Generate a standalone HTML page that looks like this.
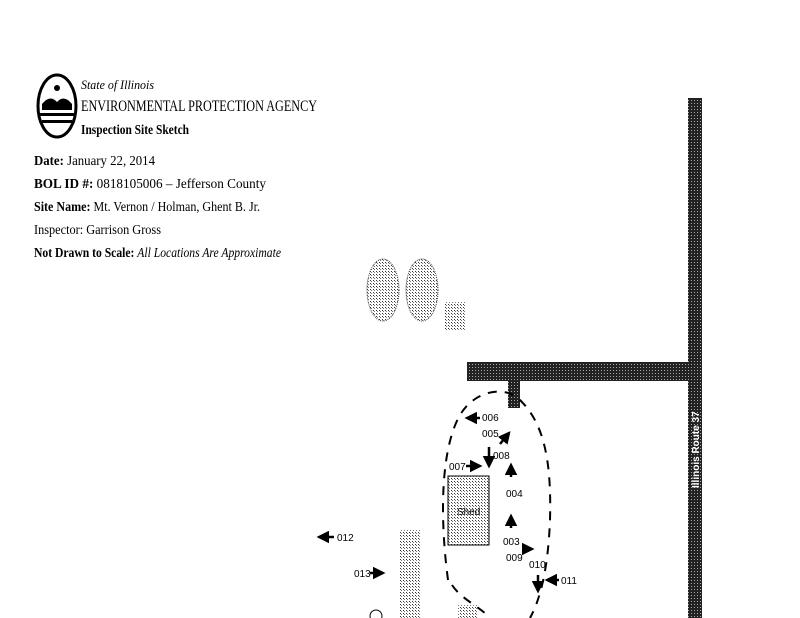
<!DOCTYPE html>
<html><head><style>
body{margin:0;background:#fff;}
svg{display:block}
text{font-family:"Liberation Serif",serif;fill:#000}
.s{font-family:"Liberation Sans",sans-serif;font-size:10px}
</style></head><body>
<svg width="800" height="618" viewBox="0 0 800 618" xmlns="http://www.w3.org/2000/svg">
<defs>
<pattern id="st" width="3" height="3" patternUnits="userSpaceOnUse">
<rect width="3" height="3" fill="#fff"/><rect x="1" y="1" width="1" height="1" fill="#333"/><rect x="2" y="2" width="1" height="1" fill="#777"/></pattern>
<pattern id="dk" width="3" height="3" patternUnits="userSpaceOnUse">
<rect width="3" height="3" fill="#222"/><rect x="1" y="1" width="1" height="1" fill="#aaa"/></pattern>
<marker id="ar" markerWidth="5" markerHeight="5" refX="4" refY="2.5" orient="auto"><path d="M0,0L5,2.5L0,5z" fill="#000"/></marker>
</defs>
<!-- logo -->
<ellipse cx="57" cy="106" rx="19" ry="31" fill="none" stroke="#000" stroke-width="3"/>
<path d="M42,104 Q50,94 57,102 Q64,94 72,104 L72,110 L42,110z" fill="#000"/>
<circle cx="57" cy="88" r="3" fill="#000"/>
<rect x="40" y="113" width="34" height="3" fill="#000"/><rect x="42" y="120" width="30" height="3" fill="#000"/>
<text x="81" y="89" font-size="13" font-style="italic" textLength="73" lengthAdjust="spacingAndGlyphs">State of Illinois</text>
<text x="81" y="111" font-size="16" textLength="236" lengthAdjust="spacingAndGlyphs">ENVIRONMENTAL PROTECTION AGENCY</text>
<text x="81" y="134" font-size="14" font-weight="bold" textLength="108" lengthAdjust="spacingAndGlyphs">Inspection Site Sketch</text>
<text x="34" y="165" font-size="14" textLength="121" lengthAdjust="spacingAndGlyphs"><tspan font-weight="bold">Date:</tspan> January 22, 2014</text>
<text x="34" y="188" font-size="14" textLength="232" lengthAdjust="spacingAndGlyphs"><tspan font-weight="bold">BOL ID #:</tspan>  0818105006 – Jefferson County</text>
<text x="34" y="211" font-size="14" textLength="226" lengthAdjust="spacingAndGlyphs"><tspan font-weight="bold">Site Name:</tspan>  Mt. Vernon / Holman, Ghent B. Jr.</text>
<text x="34" y="234" font-size="14" textLength="127" lengthAdjust="spacingAndGlyphs">Inspector:  Garrison Gross</text>
<text x="34" y="257" font-size="14" textLength="247" lengthAdjust="spacingAndGlyphs"><tspan font-weight="bold">Not Drawn to Scale:</tspan> <tspan font-style="italic">All Locations Are Approximate</tspan></text>
<!-- tanks -->
<ellipse cx="383" cy="290" rx="16" ry="31" fill="url(#st)" stroke="#444" stroke-dasharray="1,1"/>
<ellipse cx="422" cy="290" rx="16" ry="31" fill="url(#st)" stroke="#444" stroke-dasharray="1,1"/>
<rect x="444" y="302" width="22" height="28" fill="url(#st)"/>
<!-- roads -->
<rect x="467" y="362" width="233" height="19" fill="url(#dk)"/>
<rect x="688" y="98" width="14" height="520" fill="url(#dk)"/>
<rect x="508" y="380" width="12" height="28" fill="url(#dk)"/>
<text class="s" x="699" y="488" transform="rotate(-90 699 488)" style="fill:#fff;font-weight:bold" font-size="10">Illinois Route 37</text>
<!-- shed -->
<rect x="448" y="476" width="41" height="69" fill="url(#st)" stroke="#000" stroke-width="1"/>
<text class="s" x="457" y="515" font-size="11">Shed</text>
<rect x="400" y="530" width="20" height="88" fill="url(#st)"/>
<rect x="458" y="605" width="20" height="13" fill="url(#st)"/>
<!-- dashed loop -->
<path d="M448,580 C440,520 440,450 460,415 C475,390 505,385 520,400 C540,420 552,450 550,520 C548,570 540,600 530,618" fill="none" stroke="#000" stroke-width="2" stroke-dasharray="9,8"/>
<path d="M452,585 C462,600 478,605 490,618" fill="none" stroke="#000" stroke-width="2" stroke-dasharray="9,8"/>
<!-- arrows -->
<g stroke="#000" stroke-width="2.5" fill="none" marker-end="url(#ar)">
<line x1="480" y1="418" x2="467" y2="418"/>
<line x1="500" y1="444" x2="509" y2="433"/>
<line x1="489" y1="447" x2="489" y2="466"/>
<line x1="466" y1="466" x2="480" y2="466"/>
<line x1="511" y1="477" x2="511" y2="465"/>
<line x1="511" y1="528" x2="511" y2="516"/>
<line x1="525" y1="549" x2="532" y2="549"/>
<line x1="559" y1="580" x2="547" y2="580"/>
<line x1="334" y1="537" x2="319" y2="537"/>
<line x1="370" y1="573" x2="383" y2="573"/>
<line x1="538" y1="575" x2="538" y2="591"/>
</g>
<g>
<text class="s" x="482" y="421">006</text>
<text class="s" x="482" y="437">005</text>
<text class="s" x="493" y="459">008</text>
<text class="s" x="449" y="470">007</text>
<text class="s" x="506" y="497">004</text>
<text class="s" x="503" y="545">003</text>
<text class="s" x="506" y="561">009</text>
<text class="s" x="529" y="568">010</text>
<text class="s" x="561" y="584">011</text>
<text class="s" x="337" y="541">012</text>
<text class="s" x="354" y="577">013</text>
</g>
<circle cx="376" cy="616" r="6" fill="none" stroke="#000"/>
</svg>
</body></html>
